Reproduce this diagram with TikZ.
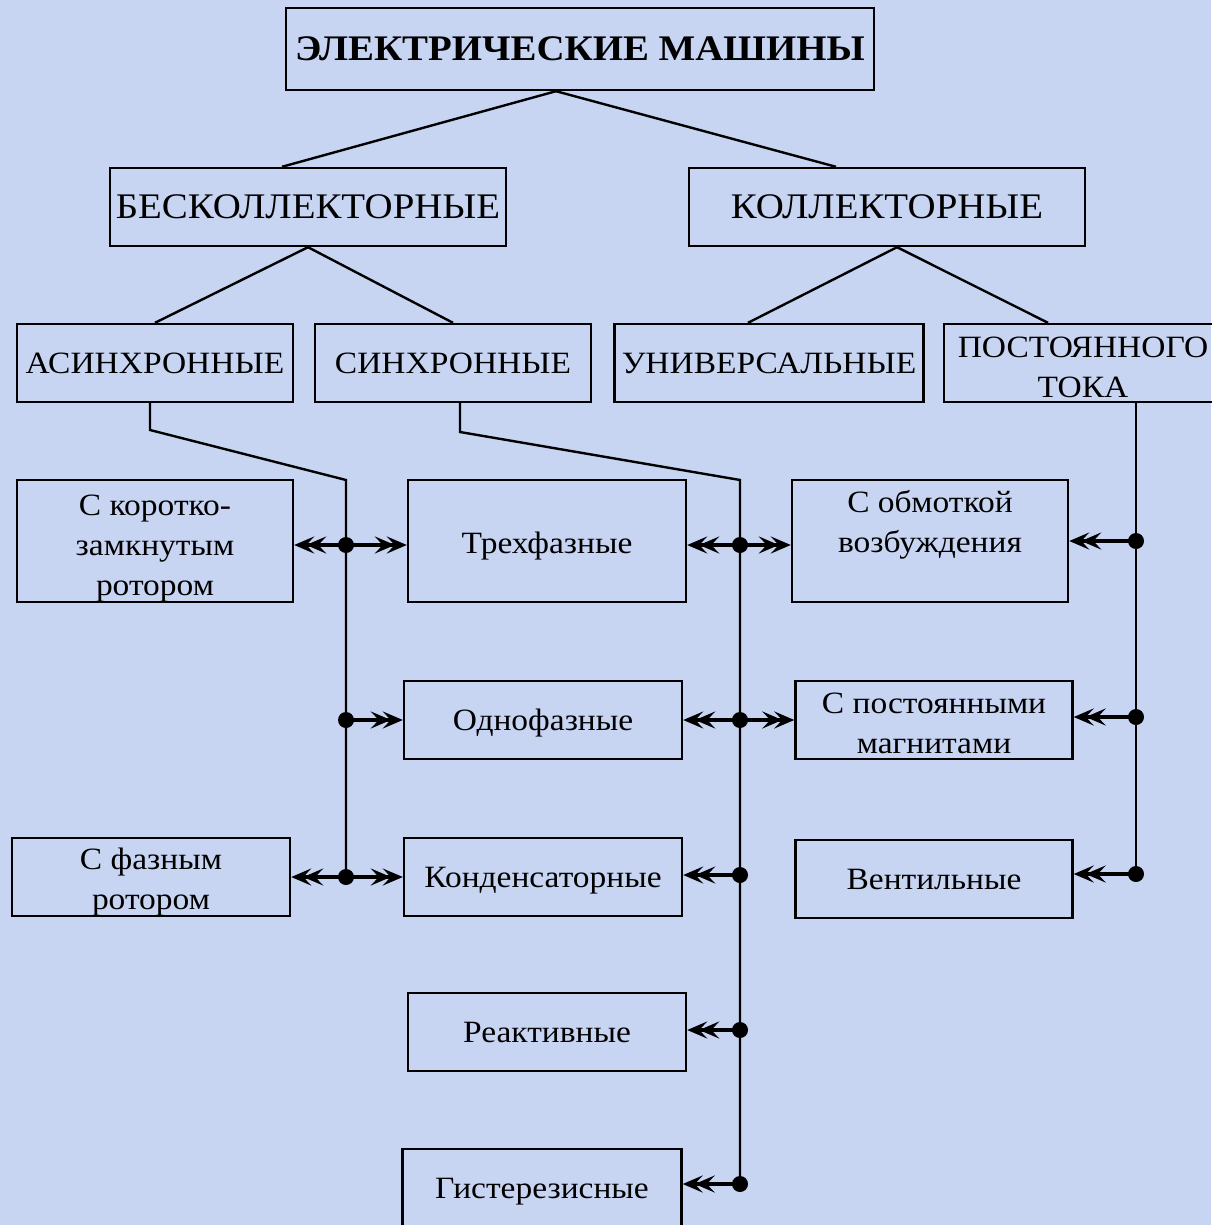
\documentclass[tikz,border=0pt]{standalone}
\usepackage{fontspec}
\setmainfont{Liberation Serif}[FakeStretch=1.08]
\usepackage{tikz}
\usepackage{tkz-euclide}
\usetikzlibrary{arrows.meta}
\definecolor{fon}{RGB}{200,213,242}
\newcommand{\vys}[1]{\rule{0pt}{#1}}
\tikzset{
  klass/.style={draw, line width=2.4pt, align=center, inner sep=0pt,
    minimum width=277pt, minimum height=78pt, font=\fontsize{31}{40}\selectfont},
  svyaz/.style={line width=2.4pt},
  strelka/.style={line width=3.4pt,
    -{Stealth[length=20pt,width=17pt,inset=8pt,sep=-8pt]Stealth[length=20pt,width=17pt,inset=8pt]}}
}

\begin{document}
\begin{tikzpicture}[x=1pt,y=-1pt]
\useasboundingbox (0,0) rectangle (1211,1225);
\fill[fon] (0,0) rectangle (1211,1225);

% уровни классификации
\node[klass, minimum width=588pt, minimum height=82pt, font=\fontsize{36}{42}\selectfont\bfseries] (em) at (580,49) {ЭЛЕКТРИЧЕСКИЕ МАШИНЫ};
\node[klass, minimum width=396pt, font=\fontsize{36}{40}\selectfont] (bes) at (308,207) {БЕСКОЛЛЕКТОРНЫЕ};
\node[klass, minimum width=396pt, font=\fontsize{36}{40}\selectfont] (kol) at (887,207) {КОЛЛЕКТОРНЫЕ};
\node[klass, minimum width=276pt] (asin) at (155,363) {АСИНХРОННЫЕ};
\node[klass, minimum width=276pt] (sin) at (453,363) {СИНХРОННЫЕ};
\node[klass, minimum width=309pt] (univ) at (769,363) {УНИВЕРСАЛЬНЫЕ};
\node[klass, minimum width=278pt] (post) at (1083,363) {\vys{30pt}ПОСТОЯННОГО\\ТОКА};

\draw[svyaz] ([xshift=-24pt]em.south) -- ([xshift=-26pt]bes.north);
\draw[svyaz] ([xshift=-24pt]em.south) -- ([xshift=-51pt]kol.north);
\draw[svyaz] (bes.south) -- (asin.north);
\draw[svyaz] (bes.south) -- (sin.north);
\draw[svyaz] ([xshift=10pt]kol.south) -- ([xshift=-21pt]univ.north);
\draw[svyaz] ([xshift=10pt]kol.south) -- ([xshift=-35pt]post.north);

% виды машин
\node[klass, minimum width=276pt, minimum height=122pt] (kz) at (155,541) {\vys{35pt}С коротко-\\замкнутым\\ротором};
\node[klass, minimum width=278pt, minimum height=122pt] (tri) at (547,541) {\vys{31pt}Трехфазные};
\node[klass, minimum width=276pt, minimum height=122pt] (obm) at (930,541) {С обмоткой\\возбуждения\\\mbox{}};
\node[klass, minimum width=278pt] (odn) at (543,720) {\vys{28pt}Однофазные};
\node[klass, minimum width=277pt] (pmag) at (934,720) {\vys{27pt}С постоянными\\магнитами};
\node[klass, minimum width=278pt] (faz) at (151,877) {\vys{31pt}С фазным\\ротором};
\node[klass, minimum width=278pt] (kond) at (543,877) {\vys{28pt}Конденсаторные};
\node[klass, minimum width=277pt] (vent) at (934,879) {Вентильные};
\node[klass, minimum width=278pt] (reak) at (547,1032) {Реактивные};
\node[klass, minimum width=279pt] (gist) at (542,1188) {\vys{28pt}Гистерезисные};

% асинхронные
\tkzDefPoint(150,430){a1}
\tkzDefPoint(346,480){a2}
\tkzDefPoint(346,545){j1}
\tkzDefPoint(346,720){j2}
\tkzDefPoint(346,877){j3}
\draw[svyaz] (asin.south -| a1) -- (a1) -- (a2) -- (j3);
\draw[strelka] (j1) -- (j1 -| kz.east);
\draw[strelka] (j1) -- (j1 -| tri.west);
\draw[strelka] (j2) -- (j2 -| odn.west);
\draw[strelka] (j3) -- (j3 -| faz.east);
\draw[strelka] (j3) -- (j3 -| kond.west);
\fill (j1) circle (8) (j2) circle (8) (j3) circle (8);

% синхронные
\tkzDefPoint(460,432){s1}
\tkzDefPoint(740,480){s2}
\tkzDefPoint(740,545){k1}
\tkzDefPoint(740,720){k2}
\tkzDefPoint(740,875){k3}
\tkzDefPoint(740,1030){k4}
\tkzDefPoint(740,1184){k5}
\draw[svyaz] (sin.south -| s1) -- (s1) -- (s2) -- (k5);
\draw[strelka] (k1) -- (k1 -| tri.east);
\draw[strelka] (k1) -- (k1 -| obm.west);
\draw[strelka] (k2) -- (k2 -| odn.east);
\draw[strelka] (k2) -- (k2 -| pmag.west);
\draw[strelka] (k3) -- (k3 -| kond.east);
\draw[strelka] (k4) -- (k4 -| reak.east);
\draw[strelka] (k5) -- (k5 -| gist.east);
\fill (k1) circle (8) (k2) circle (8) (k3) circle (8) (k4) circle (8) (k5) circle (8);

% постоянного тока
\tkzDefPoint(1136,541){p1}
\tkzDefPoint(1136,717){p2}
\tkzDefPoint(1136,874){p3}
\draw[svyaz] (post.south -| p1) -- (p3);
\draw[strelka] (p1) -- (p1 -| obm.east);
\draw[strelka] (p2) -- (p2 -| pmag.east);
\draw[strelka] (p3) -- (p3 -| vent.east);
\fill (p1) circle (8) (p2) circle (8) (p3) circle (8);
\end{tikzpicture}
\end{document}
